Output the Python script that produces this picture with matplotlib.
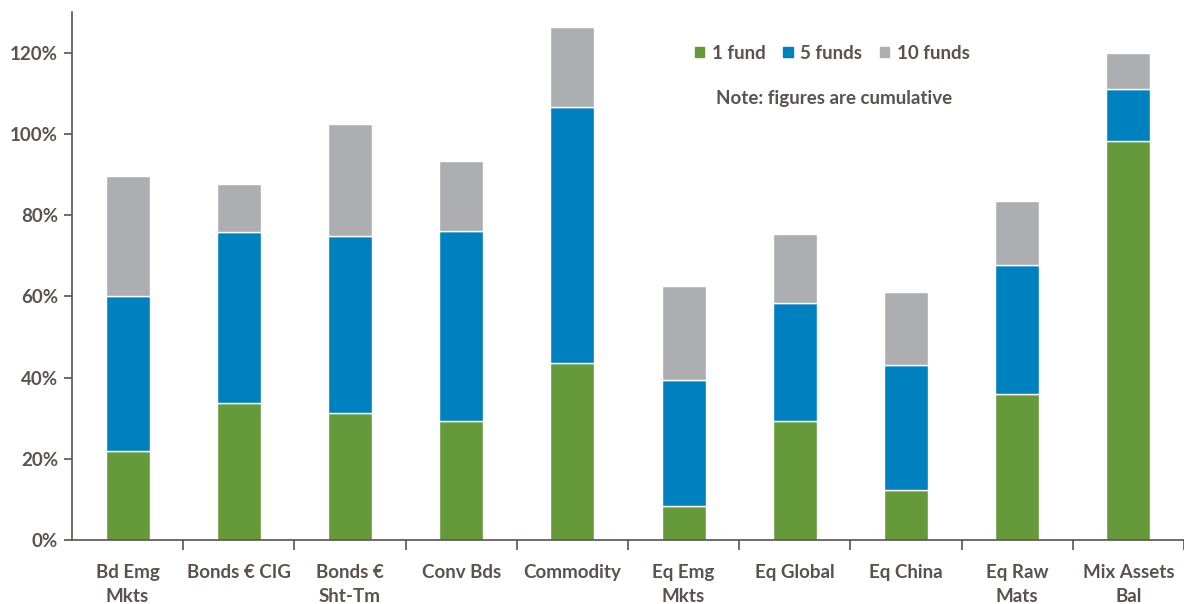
import numpy as np
import matplotlib
matplotlib.use('Agg')
import matplotlib.pyplot as plt
from matplotlib.patches import Patch

# cumulative share (%) covered by 1, 5 and 10 funds per sector
categories = ['Bd Emg\nMkts', 'Bonds € CIG', 'Bonds €\nSht-Tm', 'Conv Bds', 'Commodity',
              'Eq Emg\nMkts', 'Eq Global', 'Eq China', 'Eq Raw\nMats', 'Mix Assets\nBal']
one_fund = [21.9, 33.8, 31.3, 29.3, 43.6, 8.4, 29.3, 12.3, 36.0, 98.3]
five_funds = [60.1, 75.9, 74.9, 76.1, 106.7, 39.4, 58.4, 43.1, 67.8, 111.1]
ten_funds = [89.5, 87.7, 102.5, 93.4, 126.4, 62.6, 75.4, 61.1, 83.5, 120.0]
yticks = [0, 20, 40, 60, 80, 100, 120]

GREEN = '#66993a'
BLUE = '#0081bf'
GREY = '#adaeb2'
TXT = '#5b5250'

plt.rcParams['font.family'] = ['Lato', 'DejaVu Sans']
plt.rcParams['font.weight'] = 'bold'

fig = plt.figure(figsize=(11.84, 6.04), dpi=100)
ax = fig.add_axes([72/1184, 64/604, 1 - 72/1184, (540-12)/604])

x = np.arange(len(categories))
w = 0.395
g = np.array(one_fund)
b = np.array(five_funds) - g
r = np.array(ten_funds) - np.array(five_funds)
ax.bar(x, g, w, color=GREEN, edgecolor='white', linewidth=1.0)
ax.bar(x, b, w, bottom=g, color=BLUE, edgecolor='white', linewidth=1.0)
ax.bar(x, r, w, bottom=np.array(five_funds), color=GREY, edgecolor='white', linewidth=1.0)

ax.set_ylim(0, 130)
ax.set_xlim(-0.5, 9.5 - 8/112)
ax.set_yticks(yticks)
ax.set_yticklabels([f'{v}%' for v in yticks])
ax.set_xticks(x)
ax.set_xticklabels(categories, linespacing=1.5, va='top')
ax.set_xticks(np.arange(len(categories)) + 0.5, minor=True)
ax.tick_params(axis='x', which='major', length=0, pad=17, labelsize=13.5, labelcolor=TXT)
ax.tick_params(axis='x', which='minor', length=7, width=1.2, color=TXT, direction='out')
ax.tick_params(axis='y', length=6, width=1.2, color=TXT, labelsize=13.5, labelcolor=TXT, pad=4)

for s in ['top', 'right']:
    ax.spines[s].set_visible(False)
for s in ['left', 'bottom']:
    ax.spines[s].set_color(TXT)
    ax.spines[s].set_linewidth(1.2)

handles = [Patch(color=GREEN), Patch(color=BLUE), Patch(color=GREY)]
ax.legend(handles, ['1 fund', '5 funds', '10 funds'], loc='upper left',
          bbox_to_anchor=(0.545, 0.97), ncol=3, frameon=False,
          handlelength=0.5, handleheight=0.5, handletextpad=0.4, columnspacing=0.95,
          prop={'size': 13.5, 'weight': 'bold'}, labelcolor=TXT)
ax.text(0.685, 0.836, 'Note: figures are cumulative', transform=ax.transAxes,
        ha='center', va='center', fontsize=13.5, color=TXT, fontweight='bold')

fig.savefig('out.png', dpi=100)
